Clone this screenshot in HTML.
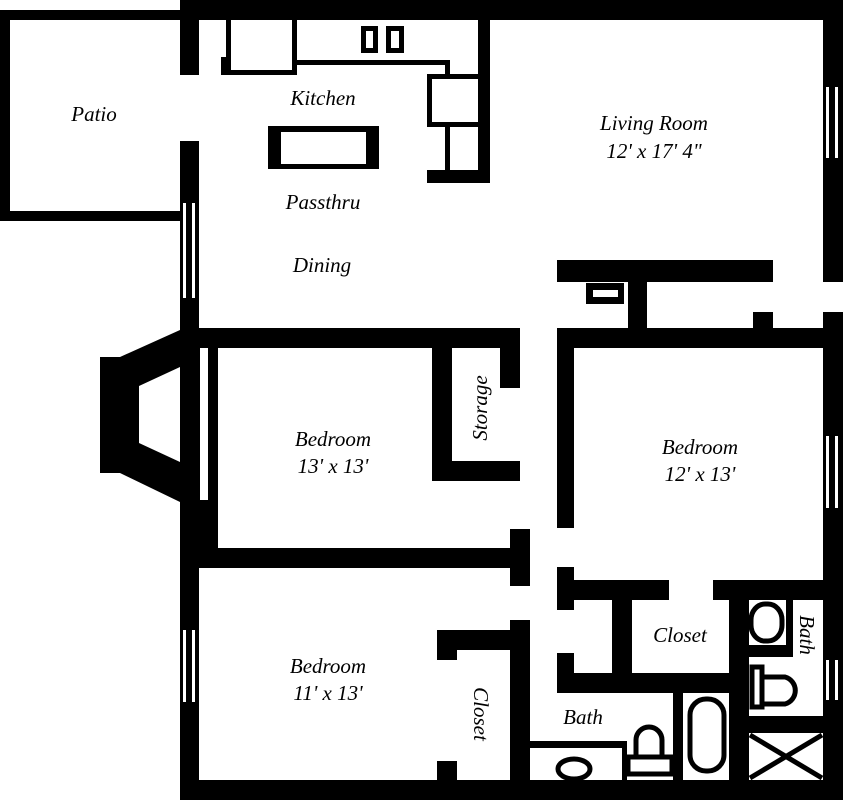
<!DOCTYPE html>
<html><head><meta charset="utf-8"><style>
html,body{margin:0;padding:0;background:#fff;}
svg{display:block;}
text{font-family:"Liberation Serif",serif;font-style:italic;font-size:21px;fill:#000;text-anchor:middle;}
</style></head><body>
<svg width="843" height="800" viewBox="0 0 843 800" xmlns="http://www.w3.org/2000/svg">
<g fill="#000">
<rect x="180" y="0" width="663" height="20"/>
<rect x="823" y="0" width="20" height="282"/>
<rect x="0" y="10" width="190" height="10"/>
<rect x="0" y="10" width="10" height="211"/>
<rect x="0" y="211" width="190" height="10"/>
<rect x="180" y="0" width="19" height="75"/>
<rect x="180" y="141" width="19" height="659"/>
<rect x="226" y="20" width="5" height="55"/>
<rect x="221" y="57" width="10" height="18"/>
<rect x="221" y="70" width="76" height="5"/>
<rect x="292" y="20" width="5" height="55"/>
<rect x="297" y="60" width="153" height="5"/>
<rect x="445" y="60" width="5" height="15"/>
<rect x="427" y="74" width="56" height="5"/>
<rect x="427" y="74" width="5" height="53"/>
<rect x="427" y="122" width="56" height="5"/>
<rect x="445" y="122" width="5" height="50"/>
<rect x="427" y="170" width="63" height="13"/>
<rect x="478" y="20" width="12" height="163"/>
<rect x="361" y="26" width="17" height="27"/>
<rect x="386" y="26" width="18" height="27"/>
<rect x="268" y="126" width="111" height="43"/>
<rect x="180" y="328" width="340" height="20"/>
<polygon points="180,330 120,357 100,357 100,473 120,473 180,502"/>
<rect x="199" y="348" width="19" height="200"/>
<rect x="199" y="548" width="331" height="20"/>
<rect x="510" y="529" width="20" height="57"/>
<rect x="500" y="328" width="20" height="60"/>
<rect x="432" y="348" width="20" height="133"/>
<rect x="432" y="461" width="88" height="20"/>
<rect x="557" y="260" width="216" height="22"/>
<rect x="628" y="282" width="19" height="47"/>
<rect x="586" y="283" width="38" height="21"/>
<rect x="557" y="328" width="286" height="20"/>
<rect x="753" y="312" width="20" height="17"/>
<rect x="823" y="312" width="20" height="488"/>
<rect x="557" y="328" width="17" height="200"/>
<rect x="557" y="567" width="17" height="43"/>
<rect x="557" y="580" width="112" height="20"/>
<rect x="713" y="580" width="110" height="20"/>
<rect x="612" y="599" width="20" height="80"/>
<rect x="557" y="653" width="17" height="40"/>
<rect x="557" y="673" width="173" height="20"/>
<rect x="729" y="580" width="20" height="200"/>
<rect x="510" y="620" width="20" height="180"/>
<rect x="437" y="630" width="75" height="20"/>
<rect x="437" y="630" width="20" height="30"/>
<rect x="437" y="761" width="20" height="20"/>
<rect x="180" y="780" width="663" height="20"/>
<rect x="530" y="741" width="97" height="7"/>
<rect x="622" y="741" width="5" height="40"/>
<rect x="673" y="692" width="10" height="90"/>
<rect x="748" y="645" width="45" height="12"/>
<rect x="786" y="599" width="7" height="58"/>
<rect x="748" y="716" width="75" height="17"/>
</g>
<g fill="#fff">
<rect x="593" y="290" width="25" height="7"/>
<rect x="281" y="132" width="85" height="32"/>
<rect x="366" y="31" width="7" height="17"/>
<rect x="391" y="31" width="8" height="17"/>
<polygon points="180,367 139,386 139,443 180,462"/>
<rect x="200" y="348" width="8" height="152"/>
<rect x="183" y="203" width="3" height="95"/><rect x="192" y="203" width="3" height="95"/>
<rect x="183" y="630" width="3" height="72"/><rect x="192" y="630" width="3" height="72"/>
<rect x="826" y="87" width="3" height="71"/><rect x="835" y="87" width="3" height="71"/>
<rect x="826" y="436" width="3" height="72"/><rect x="835" y="436" width="3" height="72"/>
<rect x="826" y="660" width="3" height="40"/><rect x="835" y="660" width="3" height="40"/>
</g>
<g fill="none" stroke="#000" stroke-width="5">
<rect x="690" y="699" width="34" height="72" rx="16"/>
<rect x="751" y="604" width="31" height="37" rx="14" ry="16"/>
<ellipse cx="574" cy="769" rx="16" ry="10"/>
<rect x="752" y="667" width="10" height="40"/>
<path d="M762,677 H785 A14,14 0 0 1 785,704 H762"/>
<path d="M636,755 V740 A13,13 0 0 1 662,740 V755"/>
<rect x="628" y="757" width="44" height="17"/>
</g>
<g stroke="#000" stroke-width="5">
<line x1="750" y1="735" x2="822" y2="778"/>
<line x1="822" y1="735" x2="750" y2="778"/>
</g>
<text x="94" y="121">Patio</text>
<text x="323" y="105">Kitchen</text>
<text x="323" y="209">Passthru</text>
<text x="322" y="272">Dining</text>
<text x="654" y="130">Living Room</text>
<text x="654" y="158">12' x 17' 4"</text>
<text x="333" y="446">Bedroom</text>
<text x="333" y="473">13' x 13'</text>
<text x="700" y="454">Bedroom</text>
<text x="700" y="481">12' x 13'</text>
<text x="680" y="642">Closet</text>
<text x="328" y="673">Bedroom</text>
<text x="328" y="700">11' x 13'</text>
<text x="583" y="724">Bath</text>
<text transform="translate(487,408) rotate(-90)">Storage</text>
<text transform="translate(474,714) rotate(90)">Closet</text>
<text transform="translate(800,635) rotate(90)">Bath</text>
</svg>
</body></html>
